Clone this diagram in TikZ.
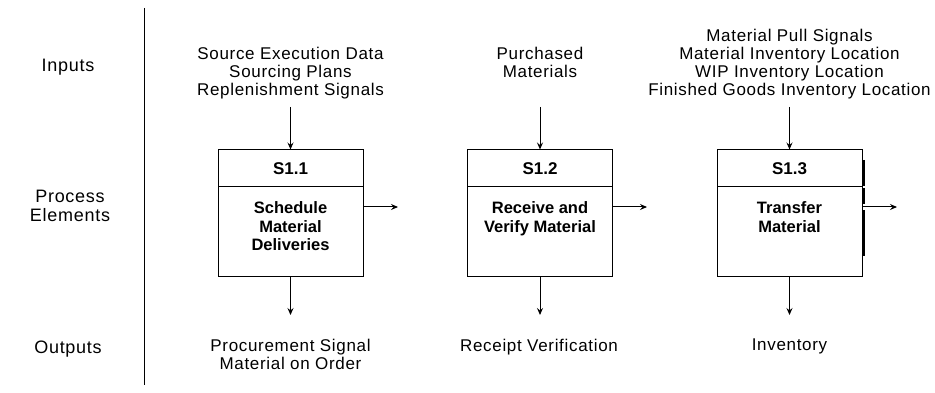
\documentclass[tikz,border=0pt]{standalone}
\usepackage{fontspec}
\setmainfont{Liberation Sans}
\newfontfamily\widesans[LetterSpace=4]{Liberation Sans}
\usetikzlibrary{arrows.meta}
\begin{document}
\begin{tikzpicture}[x=1pt,y=-1pt,
  txt/.style={font=\widesans\fontsize{17}{18}\selectfont, align=center, inner sep=0pt},
  sidelbl/.style={font=\widesans\fontsize{18}{19}\selectfont, align=center, inner sep=0pt},
  boxtxt/.style={font=\bfseries\fontsize{16.5}{18.5}\selectfont, align=center, inner sep=0pt},
  headbox/.style={draw, line width=1pt, minimum width=145pt, minimum height=37pt, inner sep=0pt,
                  font=\bfseries\fontsize{17}{18}\selectfont},
  bodybox/.style={draw, line width=1pt, minimum width=145pt, minimum height=89pt, inner sep=0pt},
  arr/.style={-{Stealth[length=7pt,width=6pt,inset=2.5pt]}, line width=1pt}]
\useasboundingbox (0,0) rectangle (935,393);

% row labels and separator
\node[sidelbl] (lin)  at (68,67)  {Inputs};
\node[sidelbl] (lpe)  at (70,206) {Process\\Elements};
\node[sidelbl] (lout) at (68,349) {Outputs};
\coordinate (sepT) at (144,8);
\coordinate (sepB) at (144,385);
\draw[line width=1pt] (sepT) -- (sepB);

% process element boxes
\node[headbox] (h1) at (290.5,168.5) {S1.1};
\node[bodybox] (b1) at (290.5,231.5) {};
\node[headbox] (h2) at (540,168.5) {S1.2};
\node[bodybox] (b2) at (540,231.5) {};
\node[headbox] (h3) at (789.5,168.5) {S1.3};
\node[bodybox] (b3) at (789.5,231.5) {};

\node[boxtxt, anchor=north] (t1) at ([yshift=-15pt]b1.north) {Schedule\\Material\\Deliveries};
\node[boxtxt, anchor=north] (t2) at ([yshift=-15pt]b2.north) {Receive and\\Verify Material};
\node[boxtxt, anchor=north] (t3) at ([yshift=-15pt]b3.north) {Transfer\\Material};

% thick bar on the right edge of S1.3
\coordinate (bar1) at (863.5,160);
\coordinate (bar2) at (863.5,186);
\coordinate (bar3) at (863.5,188);
\coordinate (bar4) at (863.5,204);
\coordinate (bar5) at (863.5,210);
\coordinate (bar6) at (863.5,256);
\draw[line width=3pt] (bar1) -- (bar2) (bar3) -- (bar4) (bar5) -- (bar6);

% inputs
\node[txt, anchor=north] (i1) at (290.5,47) {Source Execution Data\\Sourcing Plans\\Replenishment Signals};
\node[txt, anchor=north] (i2) at (540,47) {Purchased\\Materials};
\node[txt, anchor=north] (i3) at (789.5,29) {Material Pull Signals\\Material Inventory Location\\WIP Inventory Location\\Finished Goods Inventory Location};
\coordinate (a1) at (290.5,107);
\coordinate (a2) at (540,107);
\coordinate (a3) at (789.5,107);
\draw[arr] (a1) -- (h1);
\draw[arr] (a2) -- (h2);
\draw[arr] (a3) -- (h3);

% outgoing arrows to the right
\coordinate (r1) at (398,207);
\coordinate (r2) at (647,207);
\coordinate (r3) at (897,207);
\draw[arr] (r1 -| b1.east) -- (r1);
\draw[arr] (r2 -| b2.east) -- (r2);
\draw[arr] (r3 -| b3.east) -- (r3);

% outputs
\coordinate (d1) at (290.5,315);
\coordinate (d2) at (540,315);
\coordinate (d3) at (789.5,315);
\draw[arr] (b1) -- (d1);
\draw[arr] (b2) -- (d2);
\draw[arr] (b3) -- (d3);
\node[txt, anchor=north] (o1) at (290.5,339) {Procurement Signal\\Material on Order};
\node[txt, anchor=north] (o2) at (539,339) {Receipt Verification};
\node[txt, anchor=north] (o3) at (789.5,339) {Inventory};
\end{tikzpicture}
\end{document}
